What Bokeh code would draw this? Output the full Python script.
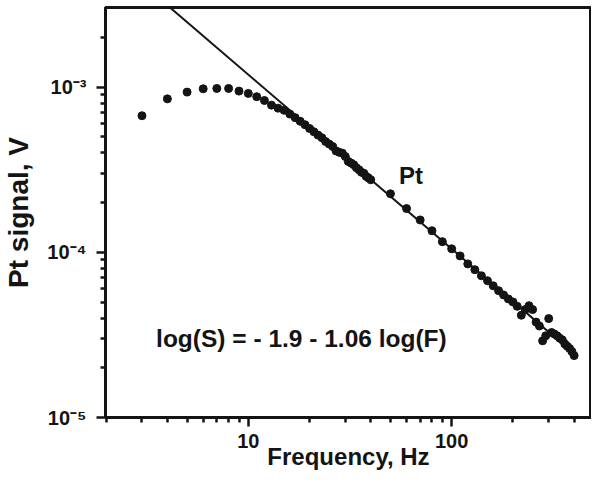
from bokeh.plotting import figure
from bokeh.models import FixedTicker, Label
from bokeh.embed import file_html
from bokeh.resources import INLINE

# ---- data ----
FREQ = [3, 4, 5, 6, 7, 8, 9, 10, 11, 12, 13, 14, 15, 16, 17, 18, 19, 20,
        21, 22, 23, 24, 25, 26, 27, 28, 29, 30, 31, 32, 33, 34, 35, 36, 37,
        38, 39, 40, 50, 60, 70, 80, 90, 100, 110, 120, 130, 140, 150, 160,
        170, 180, 190, 200, 210, 220, 230, 240, 250, 260, 270, 280, 290,
        300, 310, 320, 330, 340, 350, 360, 370, 380, 390, 400]
SIGNAL = [6.71e-4, 8.49e-4, 9.33e-4, 9.77e-4, 9.82e-4, 9.82e-4, 9.46e-4,
          9.16e-4, 8.75e-4, 8.30e-4, 7.78e-4, 7.46e-4, 7.24e-4, 6.87e-4,
          6.53e-4, 6.21e-4, 5.92e-4, 5.62e-4, 5.37e-4, 5.13e-4, 4.94e-4,
          4.68e-4, 4.52e-4, 4.37e-4, 4.11e-4, 4.03e-4, 3.98e-4, 3.80e-4,
          3.55e-4, 3.47e-4, 3.39e-4, 3.25e-4, 3.16e-4, 3.05e-4, 3.01e-4,
          2.88e-4, 2.82e-4, 2.75e-4, 2.26e-4, 1.84e-4, 1.57e-4, 1.35e-4,
          1.16e-4, 1.05e-4, 9.51e-5, 8.51e-5, 7.85e-5, 7.21e-5, 6.73e-5,
          6.27e-5, 5.86e-5, 5.52e-5, 5.22e-5, 5.01e-5, 4.71e-5, 4.16e-5,
          4.50e-5, 4.75e-5, 4.50e-5, 3.78e-5, 3.58e-5, 2.91e-5, 3.12e-5,
          3.97e-5, 3.27e-5, 3.20e-5, 3.12e-5, 3.02e-5, 2.95e-5, 2.79e-5,
          2.70e-5, 2.62e-5, 2.51e-5, 2.37e-5]

# fitted power law, log(S) = -1.9 - 1.06 log(F): end points
LINE_F = [3.0, 400.0]
LINE_S = [4.24e-3, 2.43e-5]

X_MAJOR = [10.0, 100.0]
X_MAJOR_LABELS = ["10", "100"]
X_MINOR = [2, 3, 4, 5, 6, 7, 8, 9, 20, 30, 40, 50, 60, 70, 80, 90,
           200, 300, 400, 500]
Y_MAJOR = [1e-5, 1e-4, 1e-3]
Y_MAJOR_LABELS = ["10\u207b\u2075", "10\u207b\u2074", "10\u207b\u00b3"]
Y_MINOR = [2e-5, 3e-5, 4e-5, 5e-5, 6e-5, 7e-5, 8e-5, 9e-5,
           2e-4, 3e-4, 4e-4, 5e-4, 6e-4, 7e-4, 8e-4, 9e-4, 2e-3]

X_TITLE = "Frequency, Hz"
Y_TITLE = "Pt signal, V"
EQUATION = "log(S) = - 1.9 - 1.06 log(F)"
SERIES_NAME = "Pt"

FONT = "Liberation Sans"
INK = "#141414"

p = figure(width=591, height=476, x_axis_type="log", y_axis_type="log",
           x_range=(1.985, 487), y_range=(1e-5, 10 ** -2.518),
           output_backend="svg", toolbar_location=None,
           min_border_left=101, min_border_right=0, min_border_top=7,
           min_border_bottom=59)
# frame outline supplies the top border line
p.outline_line_color = INK
p.outline_line_width = 3
p.xgrid.visible = False
p.ygrid.visible = False
p.background_fill_color = "white"
p.border_fill_color = "white"

for ax in (p.xaxis[0], p.yaxis[0]):
    ax.axis_line_width = 3
    ax.axis_line_color = INK
    ax.major_tick_in = 0
    ax.major_tick_out = 9
    ax.minor_tick_in = 0
    ax.minor_tick_out = 5
    ax.major_tick_line_width = 2.5
    ax.minor_tick_line_width = 2.5
    ax.major_tick_line_color = INK
    ax.minor_tick_line_color = INK
    ax.major_label_text_font = FONT
    ax.major_label_text_font_style = "bold"
    ax.major_label_text_font_size = "20px"
    ax.major_label_text_color = INK
    ax.axis_label_text_font = FONT
    ax.axis_label_text_font_style = "bold"
    ax.axis_label_text_color = INK

p.xaxis.ticker = FixedTicker(ticks=X_MAJOR, minor_ticks=X_MINOR)
p.xaxis.major_label_overrides = dict(zip(X_MAJOR, X_MAJOR_LABELS))
p.xaxis.major_label_standoff = 7
p.xaxis.axis_label = X_TITLE
p.xaxis.axis_label_text_font_size = "24px"
p.xaxis.axis_label_standoff = -8

p.yaxis.ticker = FixedTicker(ticks=Y_MAJOR, minor_ticks=Y_MINOR)
p.yaxis.major_label_overrides = dict(zip(Y_MAJOR, Y_MAJOR_LABELS))
p.yaxis.major_label_standoff = 10
p.yaxis.axis_label = Y_TITLE
p.yaxis.axis_label_text_font_size = "28px"
p.yaxis.axis_label_standoff = 10

p.line(LINE_F, LINE_S, line_width=2, line_color=INK)
p.scatter(FREQ, SIGNAL, size=8, fill_color=INK, line_color=INK)

p.add_layout(Label(x=55.1, y=2.91e-4, text=SERIES_NAME, text_font=FONT,
                   text_font_style="bold", text_font_size="24px",
                   text_color=INK, text_baseline="alphabetic"))
p.add_layout(Label(x=3.52, y=2.99e-5, text=EQUATION, text_font=FONT,
                   text_font_style="bold", text_font_size="24.5px",
                   text_color=INK, text_baseline="alphabetic"))

open("out.html", "w").write(file_html(p, INLINE))
